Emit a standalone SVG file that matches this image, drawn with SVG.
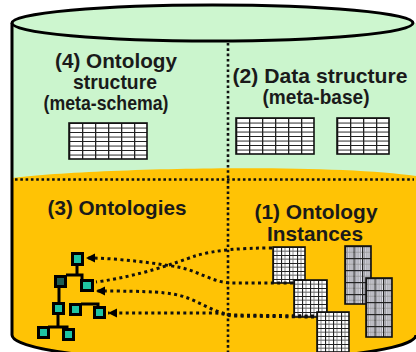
<svg xmlns="http://www.w3.org/2000/svg" width="416" height="352" viewBox="0 0 416 352">
  <style>
    .lbl { font-family: "Liberation Sans", Arial, sans-serif; font-weight: bold; font-size: 21px; fill: #1a1a1a; text-anchor: middle; }
    .wall { fill: none; stroke: #000; stroke-width: 3; }
    .sep { fill: none; stroke: #111; stroke-width: 2.6; stroke-dasharray: 2.6 2.7; }
    .link { fill: none; stroke: #111; stroke-width: 3; stroke-dasharray: 3 3.4; }
    .tree { fill: none; stroke: #000; stroke-width: 3; }
    .nd { fill: #000; }
    .core { fill: #1fc4a2; }
    .core-dark { fill: #1d5d52; }
    .frame { stroke: #111; stroke-width: 1.6; }
  </style>
  <defs>
    <!-- table cells: black column/row rules with a grey band inside each row -->
    <pattern id="tbl" patternUnits="userSpaceOnUse" width="13" height="9">
      <rect width="13" height="9" fill="#fff"/>
      <rect x="0" y="4.2" width="13" height="1.8" fill="#8a8a8a"/>
      <rect x="0" y="0" width="13" height="1" fill="#222"/>
      <rect x="0" y="0" width="1.3" height="9" fill="#222"/>
    </pattern>
    <!-- fine instance mesh -->
    <pattern id="mesh" patternUnits="userSpaceOnUse" width="8" height="8">
      <rect width="8" height="8" fill="#fff"/>
      <rect x="3.5" y="0" width="1" height="8" fill="#8c8c8c"/>
      <rect x="0" y="3.6" width="8" height="1.2" fill="#777"/>
      <rect x="0" y="0" width="8" height="1" fill="#222"/>
      <rect x="0" y="0" width="1.1" height="8" fill="#222"/>
    </pattern>
    <!-- denser, greyer instance mesh -->
    <pattern id="mesh2" patternUnits="userSpaceOnUse" width="8.5" height="12">
      <rect width="8.5" height="12" fill="#e4e4ec"/>
      <rect x="2" y="0" width="1" height="12" fill="#8a8a90"/>
      <rect x="4.2" y="0" width="1" height="12" fill="#8a8a90"/>
      <rect x="6.4" y="0" width="1" height="12" fill="#8a8a90"/>
      <rect x="0" y="5.8" width="8.5" height="0.8" fill="#999"/>
      <rect x="0" y="0" width="8.5" height="1.2" fill="#222"/>
      <rect x="0" y="0" width="1.2" height="12" fill="#222"/>
    </pattern>
    <marker id="ah" markerUnits="userSpaceOnUse" markerWidth="10" markerHeight="10" refX="9" refY="4.5" orient="auto">
      <path d="M0,0 L9,4.5 L0,9 Z" fill="#000"/>
    </marker>
  </defs>

  <!-- cylinder body -->
  <g id="cylinder">
    <path d="M12,23 V335 A202,26 0 0 0 416,335 V23 Z" fill="#cbf5cd"/>
    <path d="M12,178 C90,168 330,163 416,176 V335 A202,26 0 0 1 12,335 Z" fill="#ffc305"/>
    <path class="wall" d="M12,23 V335 A202,26 0 0 0 416,335"/>
    <ellipse cx="212.5" cy="23" rx="200.5" ry="18" fill="#cdf6cf" stroke="#000" stroke-width="3"/>
    <path class="sep" d="M15,179.5 H414"/>
    <path class="sep" d="M228,43 V352"/>
  </g>

  <!-- (4) ontology structure -->
  <g id="ontology-structure">
    <text class="lbl" x="116" y="68" textLength="122" lengthAdjust="spacingAndGlyphs">(4) Ontology</text>
    <text class="lbl" x="115" y="89" textLength="84" lengthAdjust="spacingAndGlyphs">structure</text>
    <text class="lbl" x="106" y="110" textLength="125" lengthAdjust="spacingAndGlyphs">(meta-schema)</text>
    <g transform="translate(69,123)">
      <rect class="frame" width="78" height="36" fill="url(#tbl)"/>
    </g>
  </g>

  <!-- (2) data structure -->
  <g id="data-structure">
    <text class="lbl" x="320" y="83" textLength="175" lengthAdjust="spacingAndGlyphs">(2) Data structure</text>
    <text class="lbl" x="316" y="104" textLength="107" lengthAdjust="spacingAndGlyphs">(meta-base)</text>
    <g transform="translate(236,118)">
      <rect class="frame" width="78" height="36" fill="url(#tbl)"/>
    </g>
    <g transform="translate(337,118)">
      <rect class="frame" width="52" height="36" fill="url(#tbl)"/>
    </g>
  </g>

  <!-- (3) ontologies -->
  <g id="ontologies">
    <text class="lbl" x="117" y="215" textLength="139" lengthAdjust="spacingAndGlyphs">(3) Ontologies</text>
    <path class="tree" d="M77,265 V275 M66,275 H82 V280 M59,287 V303 M81,304 H98 V307 M58,314 V327 H48 M58,327 H67 V329"/>
    <g id="n1"><rect class="nd" x="71" y="252" width="13" height="14"/><rect class="core" x="74" y="255" width="7" height="8"/></g>
    <g id="n2"><rect class="nd" x="54" y="275" width="13" height="13"/><rect class="core-dark" x="57" y="278" width="7" height="7"/></g>
    <g id="n3"><rect class="nd" x="80" y="279" width="14" height="13"/><rect class="core" x="83" y="282" width="8" height="7"/></g>
    <g id="n4"><rect class="nd" x="52" y="302" width="13" height="13"/><rect class="core" x="55" y="305" width="7" height="7"/></g>
    <g id="n5"><rect class="nd" x="69" y="303" width="13" height="13"/><rect class="core" x="72" y="306" width="7" height="7"/></g>
    <g id="n6"><rect class="nd" x="93" y="306" width="13" height="13"/><rect class="core" x="96" y="309" width="7" height="7"/></g>
    <g id="n7"><rect class="nd" x="37" y="326" width="13" height="13"/><rect class="core" x="40" y="329" width="7" height="7"/></g>
    <g id="n8"><rect class="nd" x="62" y="328" width="13" height="13"/><rect class="core" x="65" y="331" width="7" height="7"/></g>
  </g>

  <!-- (1) ontology instances -->
  <g id="ontology-instances">
    <text class="lbl" x="316" y="219" textLength="123" lengthAdjust="spacingAndGlyphs">(1) Ontology</text>
    <text class="lbl" x="315" y="241" textLength="96" lengthAdjust="spacingAndGlyphs">Instances</text>
    <g transform="translate(273,247)"><rect class="frame" width="32" height="36" fill="url(#mesh)"/></g>
    <g transform="translate(345,246)"><rect class="frame" width="26" height="58" fill="url(#mesh2)"/></g>
    <g transform="translate(294,280)"><rect class="frame" width="33" height="37" fill="url(#mesh)"/></g>
    <g transform="translate(366,278)"><rect class="frame" width="26" height="59" fill="url(#mesh2)"/></g>
    <g transform="translate(317,312)"><rect class="frame" width="32" height="40" fill="url(#mesh)"/></g>
  </g>

  <!-- links from instances to ontology nodes -->
  <g id="connectors">
    <path class="link" d="M293,283 L230,283 C212,282 196,270 178,267 S120,258 86,258" marker-end="url(#ah)"/>
    <path class="link" d="M272,248 C240,248 215,250 195,256 C175,263 140,276 96,282"/>
    <path class="link" d="M314,316 L232,315 C215,313 200,302 185,297 C170,292 150,291 96,291" marker-end="url(#ah)"/>
    <path class="link" d="M314,317 L232,316 C225,315 222,313 215,313 L108,313" marker-end="url(#ah)"/>
  </g>
</svg>
